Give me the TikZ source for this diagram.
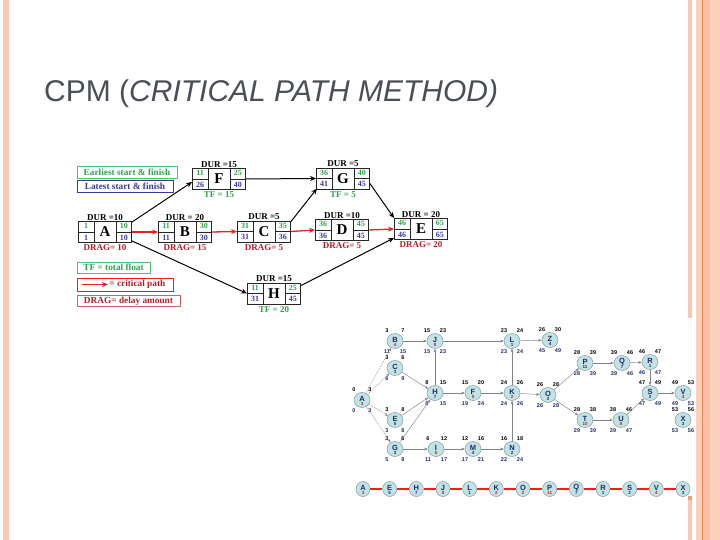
\documentclass[tikz,border=0pt]{standalone}
\usepackage{fontspec}
\setmainfont{Liberation Serif}
\newfontfamily\arialfont{Liberation Sans}
\usetikzlibrary{arrows.meta,shapes.geometric}
\definecolor{salmon}{HTML}{F9C8B5}
\definecolor{salmonlt}{HTML}{FDD0BD}
\definecolor{salmondk}{HTML}{FBBFA6}
\definecolor{orangeline}{HTML}{E0874E}
\definecolor{titlegray}{HTML}{4A4E55}
\definecolor{tfgreen}{HTML}{2FA04F}
\definecolor{lgreen}{HTML}{4CC46A}
\definecolor{lsblue}{HTML}{3A3A9A}
\definecolor{dragred}{HTML}{B0202A}
\definecolor{critred}{HTML}{E8201E}
\definecolor{nodefill}{HTML}{C2E2E4}
\definecolor{nodeedge}{HTML}{7E9CA0}
\definecolor{netnavy}{HTML}{1F2A6A}
\definecolor{netred}{HTML}{B3262E}
\definecolor{netgray}{HTML}{808488}
\tikzset{
  actbox/.style={draw=black!85, line width=0.8pt, minimum width=53pt, minimum height=21pt, inner sep=0pt},
  cell/.style={font=\bfseries\fontsize{8}{8}\selectfont, inner sep=0pt},
  toplbl/.style={font=\bfseries\fontsize{9}{9}\selectfont, inner sep=0pt, anchor=south},
  botlbl/.style={font=\bfseries\fontsize{9}{9}\selectfont, inner sep=0pt, anchor=north},
  legbox/.style={line width=0.8pt, inner sep=0pt, font=\bfseries\fontsize{9.3}{9.3}\selectfont},
  blackarr/.style={-{Stealth[length=6pt,width=5pt]}, line width=1pt, black},
  redarr/.style={-{Stealth[length=6pt,width=5pt]}, line width=1.3pt, critred},
  netnode/.style={ellipse, draw=nodeedge, fill=nodefill, line width=0.5pt, minimum width=16pt, minimum height=15pt, inner sep=0pt},
  chainnode/.style={ellipse, draw=nodeedge, fill=nodefill, line width=0.5pt, minimum width=14pt, minimum height=15pt, inner sep=0pt},
  nettxt/.style={font=\arialfont\bfseries\fontsize{7.5}{7.5}\selectfont, text=netnavy, inner sep=0pt},
  netdur/.style={font=\arialfont\bfseries\fontsize{4.5}{4.5}\selectfont, inner sep=0pt},
  netlbl/.style={font=\arialfont\bfseries\fontsize{5.5}{5.5}\selectfont, inner sep=0pt},
  netedge/.style={draw=netgray, line width=0.45pt, -{Stealth[length=3.5pt,width=2.8pt]}},
  netdot/.style={netedge, dash pattern=on 1pt off 1pt},
}
\newcommand\actbox[9]{%
  \node[actbox] (#1) at (#2) {};
  \draw[line width=0.8pt, black!85] ([xshift=16pt]#1.north west) -- ([xshift=16pt]#1.south west)
    ([xshift=-16pt]#1.north east) -- ([xshift=-16pt]#1.south east)
    (#1.west) -- ([xshift=16pt]#1.west) (#1.east) -- ([xshift=-16pt]#1.east);
  \node[font=\bfseries\fontsize{15}{15}\selectfont, inner sep=0pt] (#1-let) at (#1) {#3};
  \node[cell, text=tfgreen] (#1-es) at ([xshift=8pt,yshift=-5.25pt]#1.north west) {#4};
  \node[cell, text=tfgreen] (#1-ef) at ([xshift=-8pt,yshift=-5.25pt]#1.north east) {#5};
  \node[cell, text=lsblue] (#1-ls) at ([xshift=8pt,yshift=5.25pt]#1.south west) {#6};
  \node[cell, text=lsblue] (#1-lf) at ([xshift=-8pt,yshift=5.25pt]#1.south east) {#7};
  \node[toplbl] (#1-dur) at ([yshift=0.8pt]#1.north) {#8};
  \node[botlbl] (#1-bot) at ([yshift=-1.8pt]#1.south) {#9};
}
\newcommand\cpmnode[9]{%
  \node[netnode] (#1) at (#2) {};
  \node[nettxt] (#1-t) at ([yshift=1.5pt]#1.center) {#3};
  \node[netdur, text=#5] (#1-d) at ([yshift=-4.3pt]#1.center) {#4};
  \node[netlbl] (#1-es) at ([xshift=-8pt,yshift=10.5pt]#1.center) {#6};
  \node[netlbl] (#1-ef) at ([xshift=8pt,yshift=10.5pt]#1.center) {#7};
  \node[netlbl, text=netnavy] (#1-ls) at ([xshift=-8pt,yshift=-10.5pt]#1.center) {#8};
  \node[netlbl, text=netnavy] (#1-lf) at ([xshift=8pt,yshift=-10.5pt]#1.center) {#9};
}
\newcommand\chnode[5]{%
  \node[chainnode] (#1) at (#2,489) {};
  \node[nettxt] (#1-t) at ([yshift=1.5pt]#1.center) {#3};
  \node[netdur, text=#5] (#1-d) at ([yshift=-4.3pt]#1.center) {#4};
}
\begin{document}
\begin{tikzpicture}[x=1pt, y=-1pt]
\useasboundingbox (0,0) rectangle (720,540);
% slide decoration
\fill[salmon] (3,0) rectangle (9,540);
\fill[salmon] (688,0) rectangle (692,318);
\fill[salmon] (688,494) rectangle (692,540);
\fill[orangeline!60!salmon] (688,494) rectangle (692,500);
\fill[salmonlt] (696,0) rectangle (720,540);
\fill[salmondk] (703,0) rectangle (710,540);
\fill[orangeline] (702,0) rectangle (703.2,540);
% title
\node[anchor=base west, inner sep=0pt, font=\arialfont\fontsize{30}{30}\selectfont, text=titlegray] (title) at (44,102) {CPM (\textit{CRITICAL PATH METHOD)}};

% ---------- top diagram ----------
\node[legbox, draw=lgreen, text=tfgreen, minimum width=100pt, minimum height=12pt] (leg1) at (127,172) {Earliest start \& finish};
\node[legbox, draw=lsblue, text=lsblue, minimum width=96pt, minimum height=12pt] (leg2) at (125,186) {Latest start \& finish};
\node[legbox, draw=lgreen, text=tfgreen, minimum width=73pt, minimum height=11pt] (leg3) at (113.5,267.5) {TF = total float};
\node[legbox, draw=critred, minimum width=96pt, minimum height=13pt] (leg4) at (125,284.5) {};
\coordinate (la1) at (82,284.5);
\coordinate (la2) at (108,284.5);
\draw[redarr] (la1) -- (la2);
\node[legbox, text=dragred, anchor=west] (leg4t) at (109,284.5) {= critical path};
\node[legbox, draw=dragred!70, text=dragred, minimum width=103pt, minimum height=11pt] (leg5) at (128.5,301) {DRAG= delay amount};

\actbox{A}{105,232}{A}{1}{10}{1}{10}{DUR =10}{\textcolor{dragred}{DRAG= 10}}
\actbox{B}{185,232}{B}{11}{30}{11}{30}{DUR = 20}{\textcolor{dragred}{DRAG= 15}}
\actbox{C}{264,231.5}{C}{31}{35}{31}{36}{DUR =5}{\textcolor{dragred}{DRAG= 5}}
\actbox{D}{342,230}{D}{36}{45}{36}{45}{DUR =10}{\textcolor{dragred}{DRAG= 5}}
\actbox{E}{421,229}{E}{46}{65}{46}{65}{DUR = 20}{\textcolor{dragred}{DRAG= 20}}
\actbox{F}{219,179}{F}{11}{25}{26}{40}{DUR =15}{\textcolor{tfgreen}{TF = 15}}
\actbox{G}{343,178.5}{G}{36}{40}{41}{45}{DUR =5}{\textcolor{tfgreen}{TF = 5}}
\actbox{H}{274,293.5}{H}{11}{25}{31}{45}{DUR =15}{\textcolor{tfgreen}{TF = 20}}

\draw[blackarr] ([yshift=-1pt]A.north east) -- ([yshift=-3pt]F.west);
\draw[redarr] (A.east) -- (B.west);
\draw[blackarr] ([yshift=2pt]A.south east) -- (H.west);
\draw[redarr] (B.east) -- (C.west);
\draw[blackarr] ([yshift=-1pt]C.north east) -- ([xshift=1pt,yshift=1pt]G.south west);
\draw[redarr] (C.east) -- (D.west);
\draw[blackarr] (F.east) -- (G.west);
\draw[blackarr] ([yshift=-5pt]G.east) -- (E.north west);
\draw[redarr] (D.east) -- (E.west);
\draw[blackarr] ([yshift=-3pt]H.north east) -- ([yshift=2pt]E.south west);

% ---------- network ----------
\fill[white] (350,318) rectangle (693,496);
\cpmnode{nA}{362,400}{A}{3}{netred}{0}{3}{0}{3}
\cpmnode{nB}{395,341}{B}{4}{netred}{3}{7}{11}{15}
\cpmnode{nC}{395,368}{C}{3}{netnavy}{3}{6}{6}{9}
\cpmnode{nE}{395,420}{E}{5}{netnavy}{3}{8}{3}{8}
\cpmnode{nG}{395,449}{G}{3}{netnavy}{3}{6}{5}{8}
\cpmnode{nJ}{435,341}{J}{8}{netred}{15}{23}{15}{23}
\cpmnode{nH}{435,393}{H}{7}{netnavy}{8}{15}{8}{15}
\cpmnode{nI}{436,449}{I}{6}{netred}{6}{12}{11}{17}
\cpmnode{nF}{473,393}{F}{5}{netred}{15}{20}{19}{24}
\cpmnode{nM}{473,449}{M}{4}{netnavy}{12}{16}{17}{21}
\cpmnode{nL}{512,341}{L}{1}{netnavy}{23}{24}{23}{24}
\cpmnode{nK}{512,393}{K}{2}{netred}{24}{26}{24}{26}
\cpmnode{nN}{512,449}{N}{2}{netnavy}{16}{18}{22}{24}
\cpmnode{nZ}{550,340}{Z}{4}{netnavy}{26}{30}{45}{49}
\cpmnode{nO}{548,395}{O}{2}{netnavy}{26}{28}{26}{28}
\cpmnode{nP}{585,363}{P}{11}{netnavy}{28}{39}{28}{39}
\cpmnode{nT}{585,420}{T}{10}{netred}{28}{38}{29}{39}
\cpmnode{nQ}{622,363}{Q}{7}{netnavy}{39}{46}{39}{46}
\cpmnode{nU}{621,420}{U}{8}{netred}{38}{46}{39}{47}
\cpmnode{nR}{650,362}{R}{1}{netnavy}{46}{47}{46}{47}
\cpmnode{nS}{650,393}{S}{2}{netnavy}{47}{49}{47}{49}
\cpmnode{nV}{683,393}{V}{4}{netred}{49}{53}{49}{53}
\cpmnode{nX}{683,420}{X}{3}{netnavy}{53}{56}{53}{56}

\draw[netdot] (nA) -- (nB);
\draw[netdot] (nA) -- (nC);
\draw[netdot] (nA) -- (nE);
\draw[netdot] (nA) -- (nG);
\draw[netedge] (nB) -- (nJ);
\draw[netedge] (nJ) -- (nL);
\draw[netedge] (nL) -- (nZ);
\draw[netedge] (nC) -- (nH);
\draw[netedge] (nE) -- (nH);
\draw[netedge] (nG) -- (nH);
\draw[netedge] (nH) -- (nJ);
\draw[netedge] (nH) -- (nF);
\draw[netedge] (nF) -- (nK);
\draw[netedge] (nK) -- (nL);
\draw[netedge] (nN) -- (nK);
\draw[netedge] (nG) -- (nI);
\draw[netedge] (nI) -- (nM);
\draw[netedge] (nM) -- (nN);
\draw[netedge] (nK) -- (nO);
\draw[netedge] (nO) -- (nP);
\draw[netedge] (nO) -- (nT);
\draw[netedge] (nP) -- (nQ);
\draw[netedge] (nQ) -- (nR);
\draw[netedge] (nR) -- (nS);
\draw[netedge] (nT) -- (nU);
\draw[netedge] (nU) -- (nS);
\draw[netedge] (nS) -- (nV);

% ---------- critical chain ----------
\chnode{cA}{363}{A}{3}{netred}
\chnode{cE}{389.7}{E}{5}{netnavy}
\chnode{cH}{416.3}{H}{7}{netnavy}
\chnode{cJ}{443}{J}{8}{netred}
\chnode{cL}{469.7}{L}{1}{netnavy}
\chnode{cK}{496.3}{K}{2}{netred}
\chnode{cO}{523}{O}{2}{netred}
\chnode{cP}{549.7}{P}{11}{netred}
\chnode{cQ}{576.3}{Q}{7}{netnavy}
\chnode{cR}{603}{R}{1}{netnavy}
\chnode{cS}{629.7}{S}{2}{netnavy}
\chnode{cV}{656.3}{V}{4}{netred}
\chnode{cX}{683}{X}{3}{netnavy}
\foreach \a/\b in {cA/cE,cE/cH,cH/cJ,cJ/cL,cL/cK,cK/cO,cO/cP,cP/cQ,cQ/cR,cR/cS,cS/cV,cV/cX}
  \draw[critred, line width=1.1pt] (\a) -- (\b);
\end{tikzpicture}
\end{document}
